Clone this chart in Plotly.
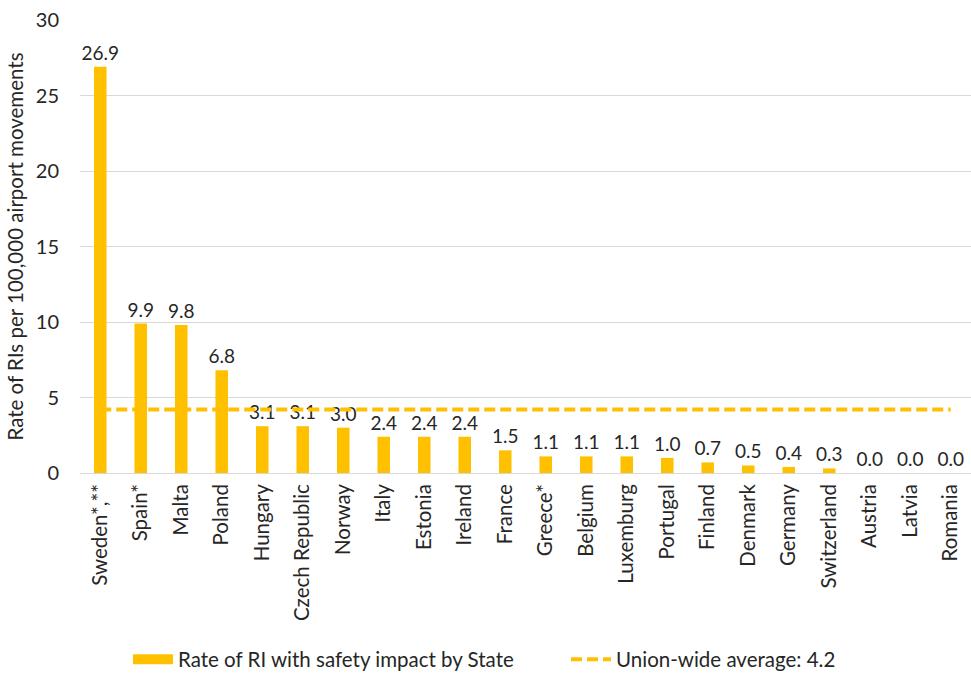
import plotly.graph_objects as go

states = ["Sweden*,**", "Spain*", "Malta", "Poland", "Hungary", "Czech Republic",
          "Norway", "Italy", "Estonia", "Ireland", "France", "Greece*", "Belgium",
          "Luxemburg", "Portugal", "Finland", "Denmark", "Germany", "Switzerland",
          "Austria", "Latvia", "Romania"]
rates = [26.9, 9.9, 9.8, 6.8, 3.1, 3.1, 3.0, 2.4, 2.4, 2.4, 1.5, 1.1, 1.1, 1.1,
         1.0, 0.7, 0.5, 0.4, 0.3, 0.0, 0.0, 0.0]
union_avg = 4.2
y_ticks = [0, 5, 10, 15, 20, 25, 30]

bar_name = "Rate of RI with safety impact by State"
avg_name = f"Union-wide average: {union_avg}"

FONT = "Lato"
GOLD = "#FFC000"
TXT = "#262626"

fig = go.Figure()
# State rates as narrow bars with value labels on top
fig.add_trace(go.Bar(
    x=states, y=rates, name=bar_name, showlegend=False,
    marker=dict(color=GOLD, line=dict(width=0)), width=0.31,
    text=[f"{v:.1f}" for v in rates], textposition="outside",
    constraintext="none",
    textfont=dict(family=FONT, size=19, color=TXT), cliponaxis=False,
))
# Legend entry for the bars drawn as a thick swatch
fig.add_trace(go.Scatter(
    x=[None], y=[None], mode="lines", name=bar_name, legend="legend",
    line=dict(color=GOLD, width=10),
))
# Union-wide average reference line
fig.add_trace(go.Scatter(
    x=states, y=[union_avg] * len(states), mode="lines", name=avg_name,
    legend="legend2",
    line=dict(color=GOLD, width=4, dash="11px,5px"),
))

legend_common = dict(orientation="h", xref="container", yref="container",
                     xanchor="left", y=0.02, yanchor="middle",
                     font=dict(family=FONT, size=20.5, color=TXT),
                     itemwidth=40, bgcolor="rgba(0,0,0,0)")

fig.update_layout(
    width=971, height=673, plot_bgcolor="white", paper_bgcolor="white",
    margin=dict(l=80, r=0, t=20, b=200),
    font=dict(family=FONT, size=19, color=TXT),
    showlegend=True,
    legend=dict(x=128 / 971, **legend_common),
    legend2=dict(x=566 / 971, **legend_common),
    xaxis=dict(tickangle=-90, tickfont=dict(family=FONT, size=20.5, color=TXT),
               showline=False, ticks="", showgrid=False, automargin=False,
               ticklabelstandoff=6),
    yaxis=dict(range=[0, 30], tickvals=y_ticks, showgrid=True,
               gridcolor="#d9d9d9", gridwidth=1, zeroline=True,
               zerolinecolor="#d9d9d9", zerolinewidth=1, ticks="",
               ticklabelstandoff=20, automargin=False,
               tickfont=dict(family=FONT, size=20, color=TXT),
               title=dict(text="Rate of RIs per 100,000 airport movements",
                          font=dict(family=FONT, size=20.5, color=TXT),
                          standoff=6)),
)

fig.write_html("out.html")
